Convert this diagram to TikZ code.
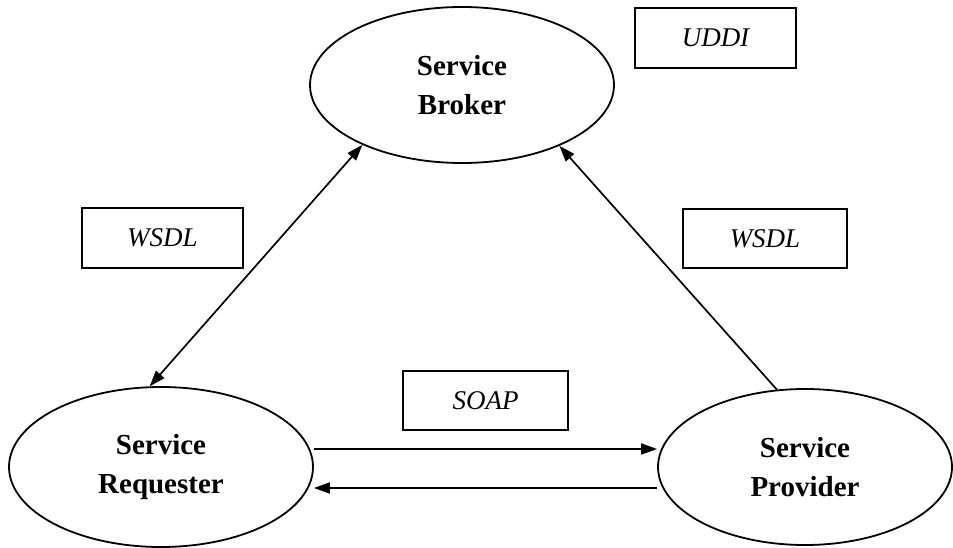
\documentclass[tikz,border=0pt]{standalone}
\usepackage{fontspec}
\setmainfont{Liberation Serif}
\usetikzlibrary{shapes.geometric,arrows.meta}
\begin{document}
\begin{tikzpicture}[x=1pt,y=-1pt,
  actor/.style={ellipse,draw,line width=1.8pt,inner sep=0pt,align=center,
    font=\fontsize{29}{39}\selectfont\bfseries},
  label/.style={draw,line width=1.3pt,inner sep=0pt,
    font=\fontsize{27}{30}\selectfont\itshape},
  conn/.style={line width=1.7pt,-{Triangle[length=16pt,width=11pt]}}]
\useasboundingbox (0,0) rectangle (953,548);
\node[actor,minimum width=304pt,minimum height=156pt] (broker) at (462,85) {Service\\Broker};
\node[actor,minimum width=304pt,minimum height=160pt] (req) at (161,467) {Service\\Requester};
\node[actor,minimum width=294pt,minimum height=156pt] (prov) at (805,467) {Service\\Provider};
\node[label,minimum width=161pt,minimum height=60pt] (uddi) at (715.5,38) {UDDI};
\node[label,minimum width=161pt,minimum height=60pt] (wsdl1) at (162.5,238) {WSDL};
\node[label,minimum width=164pt,minimum height=59pt] (wsdl2) at (765,238.5) {WSDL};
\node[label,minimum width=165pt,minimum height=59pt] (soap) at (485.5,400.5) {SOAP};
\draw[conn,{Triangle[length=16pt,width=11pt]}-{Triangle[length=16pt,width=11pt]}] (req.98) -- (broker.211);
\draw[conn] (prov.110) -- (broker.328);
\draw[conn] ([yshift=18pt]req.east) -- ([yshift=18pt]prov.west);
\draw[conn] ([yshift=-21pt]prov.west) -- ([yshift=-21pt]req.east);
\end{tikzpicture}
\end{document}
